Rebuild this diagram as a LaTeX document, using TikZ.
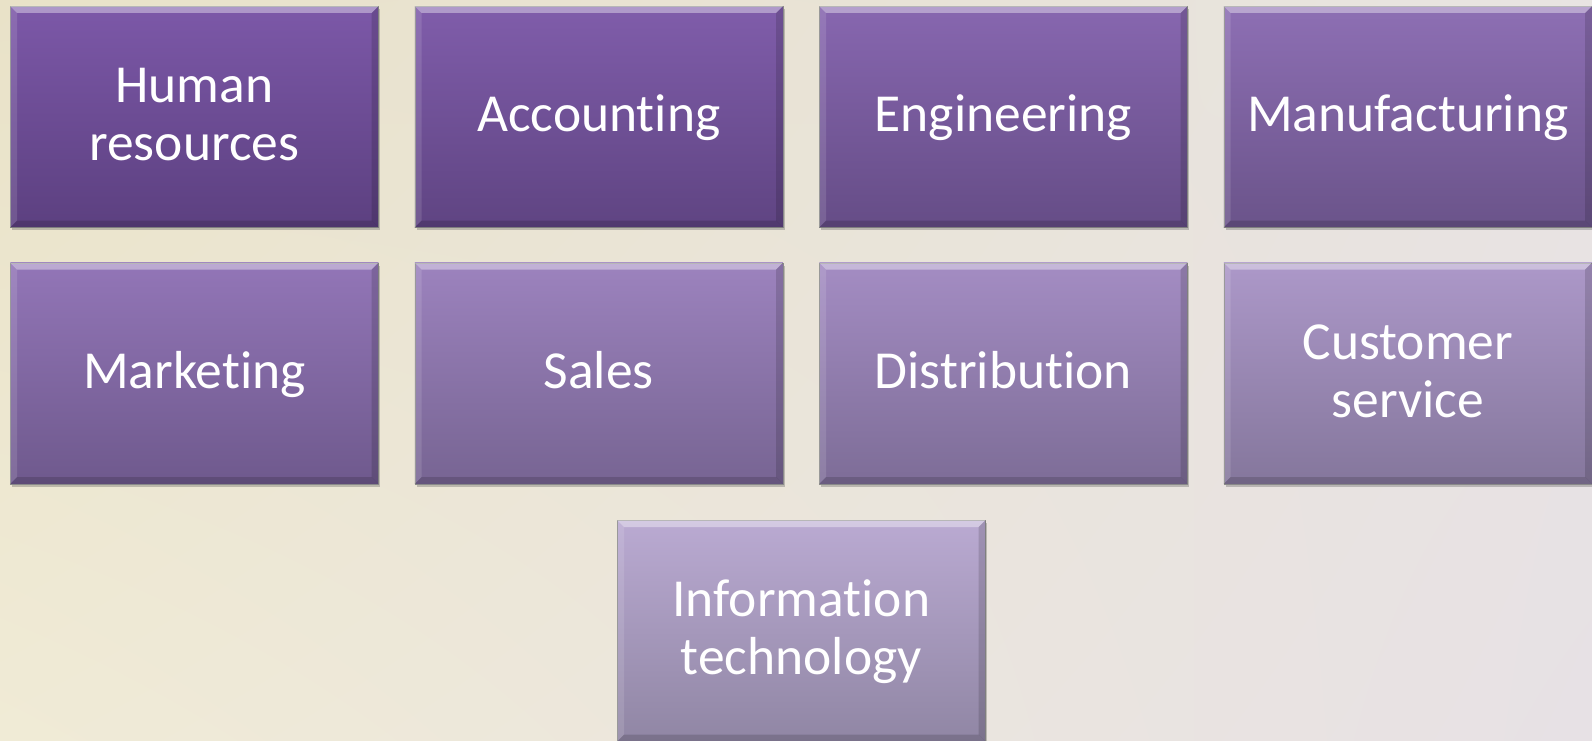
\documentclass[tikz,border=0pt]{standalone}
\usepackage{fontspec}
\setmainfont{Carlito}[Ligatures=NoCommon]
\usetikzlibrary{shadows,shadings}
\definecolor{topD}{RGB}{124,88,168}
\definecolor{topL}{RGB}{186,170,210}
\definecolor{botD}{RGB}{92,64,128}
\definecolor{botL}{RGB}{144,134,164}
\definecolor{bgUL}{RGB}{233,226,200}
\definecolor{bgLL}{RGB}{240,235,214}
\definecolor{bgUR}{RGB}{232,228,226}
\definecolor{bgLR}{RGB}{231,225,229}
\tikzset{
  deptbox/.style={rectangle, inner sep=0pt, minimum width=368pt, minimum height=221pt,
    anchor=north west, draw=black!45, line width=0.6pt,
    top color=topL!#1!topD, bottom color=botL!#1!botD,
    drop shadow={shadow xshift=2pt, shadow yshift=-3pt, opacity=0.3, fill=black!70},
    text=white, font=\fontsize{53.5pt}{58pt}\selectfont},
}
\newcommand{\lbl}[1]{\raisebox{0pt}[\dimexpr\height+3.5pt\relax][\dimexpr\depth-3.5pt\relax]{\setlength{\tabcolsep}{0pt}\renewcommand{\arraystretch}{1}\begin{tabular}[t]{c}#1\end{tabular}}}
\newcommand{\bevel}[1]{%
  \fill[white,opacity=0.38] (#1.north west) -- (#1.north east) -- ([shift={(-7pt,-7pt)}]#1.north east) -- ([shift={(7pt,-7pt)}]#1.north west) -- cycle;
  \fill[white,opacity=0.12] (#1.north west) -- ([shift={(7pt,-7pt)}]#1.north west) -- ([shift={(7pt,7pt)}]#1.south west) -- (#1.south west) -- cycle;
  \fill[black,opacity=0.14] (#1.north east) -- ([shift={(-7pt,-7pt)}]#1.north east) -- ([shift={(-7pt,7pt)}]#1.south east) -- (#1.south east) -- cycle;
  \fill[black,opacity=0.15] (#1.south west) -- ([shift={(7pt,7pt)}]#1.south west) -- ([shift={(-7pt,7pt)}]#1.south east) -- (#1.south east) -- cycle;
}
\begin{document}
\begin{tikzpicture}[x=1pt,y=-1pt]
\useasboundingbox (0,0) rectangle (1592,741);
\shade[upper left=bgUL, lower left=bgLL, upper right=bgUR, lower right=bgLR] (0,0) rectangle (1592,741);
% row 1
\node[deptbox=0]    (hr)  at (10,6)     {\lbl{Human\\resources}};
\node[deptbox=6]    (acc) at (414.5,6)  {\lbl{Accounting}};
\node[deptbox=18]   (eng) at (819,6)    {\lbl{Engineering}};
\node[deptbox=28]   (man) at (1223.5,6) {\lbl{Manufacturing}};
% row 2
\node[deptbox=36]   (mkt) at (10,262.5)     {\lbl{Marketing}};
\node[deptbox=52]   (sal) at (414.5,262.5)  {\lbl{Sales}};
\node[deptbox=64]   (dis) at (819,262.5)    {\lbl{Distribution}};
\node[deptbox=78]   (cus) at (1223.5,262.5) {\lbl{Customer\\service}};
% row 3
\node[deptbox=100]  (it)  at (617,520)  {\lbl{Information\\technology}};
\foreach \n in {hr,acc,eng,man,mkt,sal,dis,cus,it}{\bevel{\n}}
\end{tikzpicture}
\end{document}
